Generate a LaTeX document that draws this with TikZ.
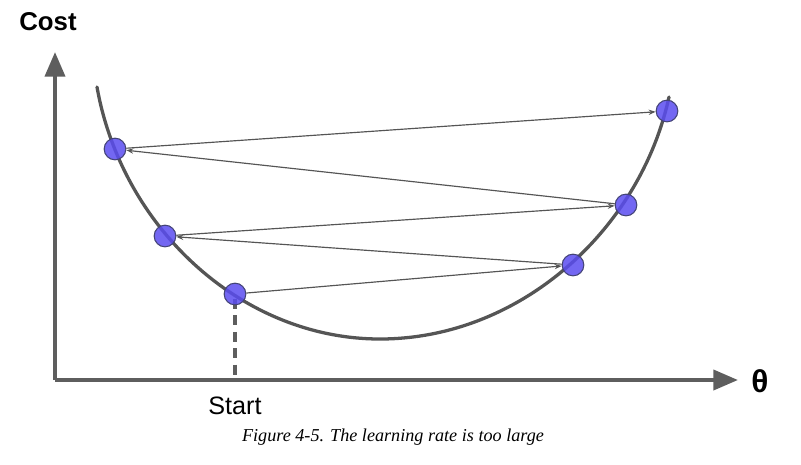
\documentclass[tikz,border=0pt]{standalone}
\usepackage{fontspec}
\setmainfont{Liberation Serif}
\setsansfont{Liberation Sans}
\usetikzlibrary{arrows.meta}
\definecolor{axisgray}{HTML}{5E5E5E}
\definecolor{curvegray}{HTML}{555555}
\definecolor{ptblue}{HTML}{5A4CF0}
\tikzset{
  axisline/.style={draw=axisgray, line width=3.4pt, -{Triangle[length=21pt,width=17pt]}},
  costcurve/.style={draw=curvegray, line width=2.8pt, line cap=round},
  ptnode/.style={circle, minimum size=18.5pt, inner sep=0pt, fill=ptblue, fill opacity=0.85, draw=curvegray!80!blue, line width=0.9pt},
  jump/.style={draw=curvegray, line width=1pt, -{Stealth[length=6pt,width=4.5pt,inset=2pt]}},
  dashline/.style={draw=axisgray, line width=2.6pt, dash pattern=on 8.5pt off 5.5pt},
  axislabel/.style={font=\sffamily\bfseries\fontsize{22}{24}\selectfont, inner sep=0pt},
  thetalabel/.style={font=\sffamily\bfseries\fontsize{27}{29}\selectfont, inner sep=0pt},
  startlabel/.style={font=\sffamily\fontsize{21.5}{23}\selectfont, inner sep=0pt},
  caption/.style={font=\itshape\fontsize{15.5}{17}\selectfont, inner sep=0pt}
}
\begin{document}
\begin{tikzpicture}[x=0.03cm,y=-0.03cm]
\useasboundingbox (0,0) rectangle (801,464);
% axes
\coordinate (origin) at (55,380);
\coordinate (ytip) at (55,52);
\coordinate (xtip) at (738,380);
\coordinate (base) at (235,380);
\draw[axisline] (origin) -- (ytip);
\draw[axisline] (origin) -- (xtip);
% curve
\draw[costcurve] (97,87) .. controls (122,228) and (242,339) .. (380,339)
                 .. controls (520,339) and (640,230) .. (669,97);
% dashed line
\draw[dashline] (235,299) -- (base);
% points
\node[ptnode] (p1) at (115,149) {};
\node[ptnode] (p2) at (165,236) {};
\node[ptnode] (p3) at (235,294) {};
\node[ptnode] (p4) at (573,265) {};
\node[ptnode] (p5) at (626,205) {};
\node[ptnode] (p6) at (667,111) {};
% jumps
\draw[jump] (p3) -- (p4);
\draw[jump] (p4) -- (p2);
\draw[jump] (p2) -- (p5);
\draw[jump] (p5) -- (p1);
\draw[jump] (p1) -- (p6);
% labels
\node[axislabel] (cost) at (48,22) {Cost};
\node[thetalabel] (theta) at (760,381) {θ};
\node[startlabel] (start) at (235,406) {Start};
\node[caption] (cap) at (393,437) {Figure 4-5. The learning rate is too large};
\end{tikzpicture}
\end{document}
